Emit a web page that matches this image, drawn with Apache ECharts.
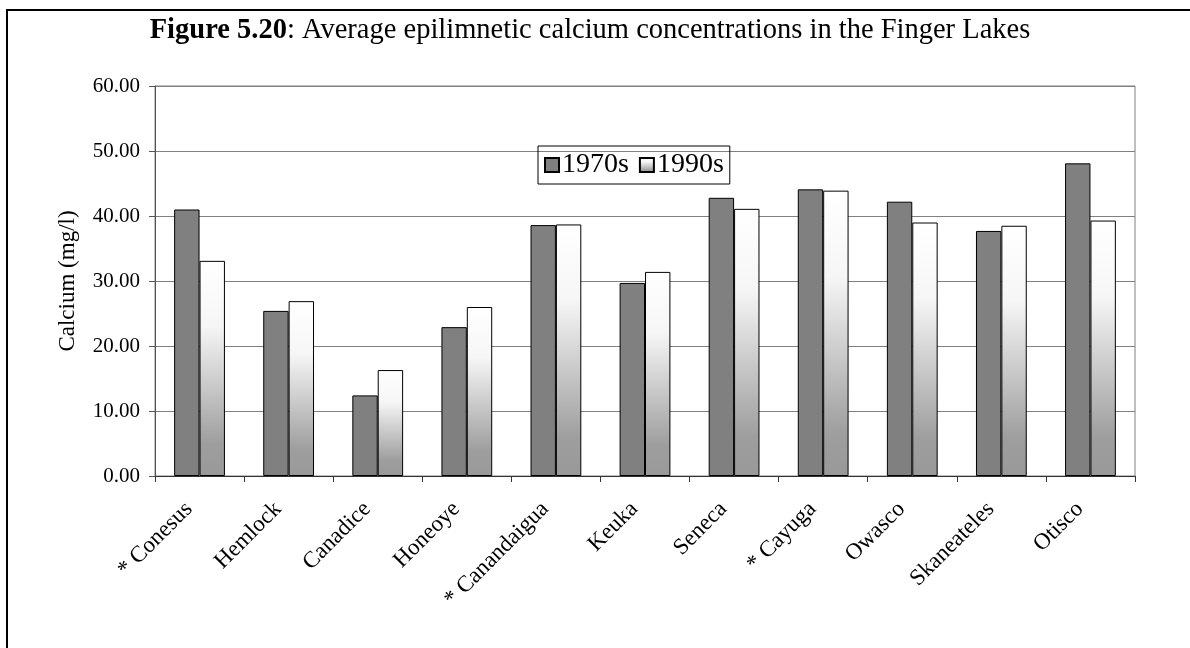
<!DOCTYPE html>
<html>
<head>
<meta charset="utf-8">
<script src="https://cdn.jsdelivr.net/npm/echarts@6/dist/echarts.min.js"></script>
<style>html,body{margin:0;padding:0;background:#fff}#c{width:1190px;height:648px}</style>
</head>
<body>
<div id="c"></div>
<script>
var categories = ['* Conesus','Hemlock','Canadice','Honeoye','* Canandaigua','Keuka','Seneca','* Cayuga','Owasco','Skaneateles','Otisco'];
var values1970s = [41.0, 25.4, 12.4, 22.9, 38.6, 29.7, 42.8, 44.1, 42.2, 37.7, 48.1];
var values1990s = [33.1, 26.9, 16.3, 26.0, 38.7, 31.4, 41.1, 43.9, 39.0, 38.5, 39.3];
var yTicks = { min: 0, max: 60, interval: 10 };
var seriesNames = ['1970s', '1990s'];

var serif = 'Liberation Serif';
var chart = echarts.init(document.getElementById('c'), null, { renderer: 'canvas' });
var grad = new echarts.graphic.LinearGradient(0, 0, 0, 1, [
  { offset: 0, color: '#ffffff' },
  { offset: 0.3, color: '#f6f6f6' },
  { offset: 0.85, color: '#9e9e9e' },
  { offset: 1, color: '#999999' }
]);
chart.setOption({
  animation: false,
  backgroundColor: '#fff',
  textStyle: { fontFamily: serif, color: '#000' },
  graphic: [{
    type: 'rect', silent: true, z: 100,
    shape: { x: 7, y: 10, width: 1400, height: 900 },
    style: { fill: 'none', stroke: '#000', lineWidth: 2 }
  }],
  title: {
    text: '{b|Figure 5.20}{n|: Average epilimnetic calcium concentrations in the Finger Lakes}',
    left: 585, top: 11, textAlign: 'center',
    textStyle: {
      rich: {
        b: { fontFamily: serif, fontWeight: 'bold', fontSize: 28.5, color: '#000' },
        n: { fontFamily: serif, fontWeight: 'normal', fontSize: 28.5, color: '#000' }
      }
    }
  },
  legend: {
    data: seriesNames,
    left: 538, top: 146,
    orient: 'horizontal',
    borderColor: '#000', borderWidth: 1,
    padding: [5, 6, 5, 6],
    itemWidth: 14, itemHeight: 14, itemGap: 10,
    icon: 'rect',
    textStyle: { fontFamily: serif, fontSize: 28, color: '#000', padding: [0, 0, 0, -2] }
  },
  grid: { left: 155, right: 55, top: 86, bottom: 172, show: true, borderColor: '#808080', borderWidth: 1 },
  xAxis: {
    type: 'category',
    data: categories,
    axisLine: { lineStyle: { color: '#333', width: 1 } },
    axisTick: { show: true, length: 6, inside: false, lineStyle: { color: '#333' } },
    axisLabel: { rotate: 45, interval: 0, fontFamily: serif, fontSize: 23, color: '#000', margin: 19, padding: [0, 15, 0, 0] }
  },
  yAxis: {
    type: 'value',
    min: yTicks.min, max: yTicks.max, interval: yTicks.interval,
    name: 'Calcium (mg/l)',
    nameLocation: 'middle', nameGap: 76, nameRotate: 90,
    nameTextStyle: { fontFamily: serif, fontSize: 23, color: '#000' },
    axisLine: { show: true, lineStyle: { color: '#555', width: 1 } },
    axisTick: { show: true, length: 6, lineStyle: { color: '#555' } },
    axisLabel: { fontFamily: serif, fontSize: 21, color: '#000', margin: 15, formatter: function (v) { return v.toFixed(2); } },
    splitLine: { show: true, lineStyle: { color: '#808080', width: 1 } }
  },
  series: [
    {
      name: seriesNames[0], type: 'bar', data: values1970s,
      barGap: '0%', barCategoryGap: '43%',
      itemStyle: { color: '#808080', borderColor: '#000', borderWidth: 1 }
    },
    {
      name: seriesNames[1], type: 'bar', data: values1990s,
      itemStyle: { color: grad, borderColor: '#000', borderWidth: 1 }
    }
  ]
});
</script>
</body>
</html>
